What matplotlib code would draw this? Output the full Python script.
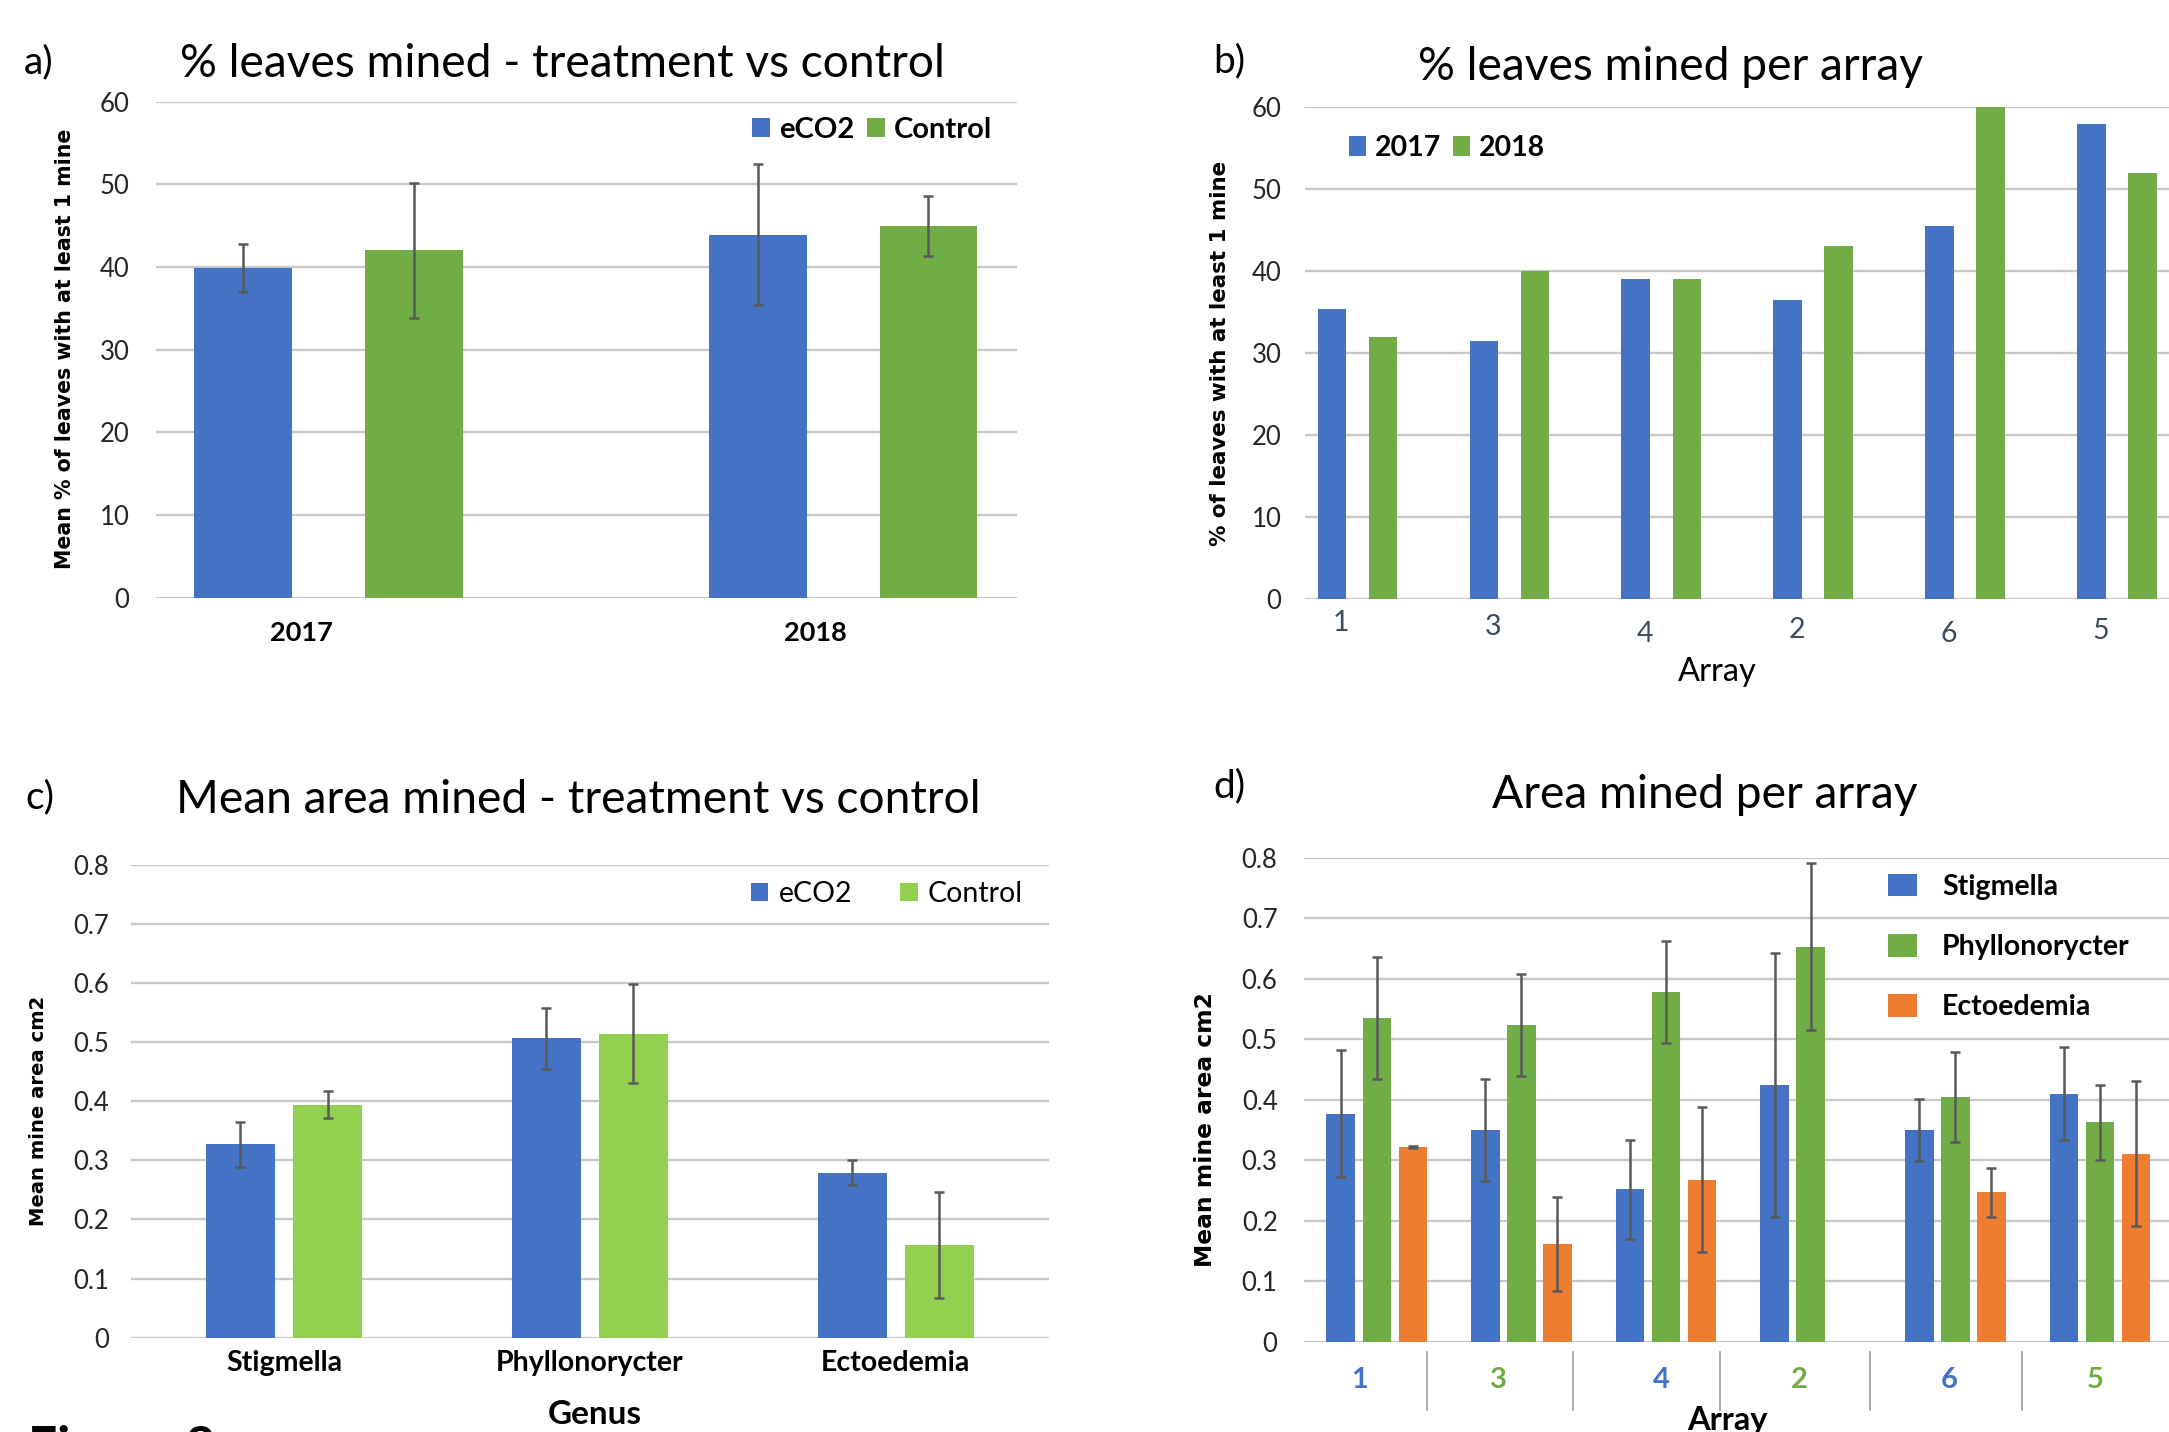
import numpy as np
import matplotlib
matplotlib.use("Agg")
import matplotlib.pyplot as plt
from matplotlib.ticker import FuncFormatter
import matplotlib.transforms as mtransforms

plt.rcParams['font.family'] = ['Lato', 'DejaVu Sans']

# ---- data ----
years = ['2017', '2018']
a_eco2 = [39.9, 43.9]
a_eco2_err = [2.9, 8.55]
a_control = [42.0, 44.95]
a_control_err = [8.2, 3.65]

arrays = ['1', '3', '4', '2', '6', '5']
b_2017 = [35.4, 31.5, 39.0, 36.5, 45.5, 57.9]
b_2018 = [32.0, 40.0, 39.0, 43.0, 60.0, 52.0]

genera = ['Stigmella', 'Phyllonorycter', 'Ectoedemia']
c_eco2 = [0.327, 0.506, 0.279]
c_eco2_err = [0.038, 0.051, 0.021]
c_control = [0.394, 0.514, 0.157]
c_control_err = [0.023, 0.084, 0.090]

d_stig = [0.377, 0.350, 0.252, 0.424, 0.350, 0.410]
d_stig_err = [0.105, 0.084, 0.082, 0.218, 0.051, 0.077]
d_phyl = [0.535, 0.523, 0.578, 0.653, 0.405, 0.363]
d_phyl_err = [0.101, 0.084, 0.085, 0.138, 0.074, 0.062]
d_ecto = [0.322, 0.162, 0.268, np.nan, 0.247, 0.311]
d_ecto_err = [0.001, 0.078, 0.120, np.nan, 0.040, 0.120]

# ---- style ----
BLUE = '#4472C4'
GREEN = '#70AD47'
LGREEN = '#92D050'
ORANGE = '#ED7D31'
GRID = '#C9C9C9'
ERR = '#595959'
TITLE = 33.2
PANEL = 28

W, H = 2169, 1432
fig = plt.figure(figsize=(W / 100, H / 100), dpi=100)


def box(l, t, r, b):
    return [l / W, 1 - b / H, (r - l) / W, (b - t) / H]


def ftext(x, y, s, **kw):
    fig.text(x / W, 1 - y / H, s, **kw)


def style(ax, ymax, step, ypad):
    ax.set_ylim(0, ymax)
    ax.set_yticks(np.arange(0, ymax + step / 2, step))
    ax.yaxis.set_major_formatter(FuncFormatter(lambda v, p: f"{v:g}"))
    ax.grid(axis='y', color=GRID, linewidth=1.7)
    ax.set_axisbelow(True)
    for s in ax.spines.values():
        s.set_visible(False)
    ax.tick_params(axis='y', length=0, pad=ypad, labelsize=18.5, labelcolor='#262626')
    ax.tick_params(axis='x', length=0)


def errs(ax, x, y, e):
    ax.errorbar(x, y, yerr=e, fmt='none', ecolor=ERR, elinewidth=1.8,
                capsize=3.8, capthick=1.8, zorder=3)


def legend(ax, handles, anchor, loc='center', **kw):
    ax.legend(handles=handles, frameon=False, borderpad=0, borderaxespad=0,
              loc=loc, bbox_to_anchor=(anchor[0] / W, 1 - anchor[1] / H),
              bbox_transform=fig.transFigure, **kw)


# ---- a) ----
ax = fig.add_axes(box(156, 101.5, 1017, 597.6))
x = np.arange(len(years))
h1 = ax.bar(x - 0.166, a_eco2, 0.19, color=BLUE, label='eCO2')
h2 = ax.bar(x + 0.166, a_control, 0.19, color=GREEN, label='Control')
errs(ax, x - 0.166, a_eco2, a_eco2_err)
errs(ax, x + 0.166, a_control, a_control_err)
style(ax, 60, 10, 19)
ax.set_xlim(-0.335, 1.338)
ax.set_xticks(x - 0.053)
ax.set_xticklabels(years, fontsize=19.5, fontweight='bold')
ax.tick_params(axis='x', pad=17)
legend(ax, [h1, h2], (872, 130), ncol=2,
       prop={'weight': 'bold', 'size': 21}, handlelength=0.62,
       handleheight=0.62, handletextpad=0.3, columnspacing=0.45)
ftext(24, 62, 'a)', fontsize=PANEL, va='center')
ftext(180, 77, '% leaves mined - treatment vs control', fontsize=TITLE, va='baseline')
ftext(65, 349, 'Mean % of leaves with at least 1 mine', fontsize=14.8, fontweight='bold',
      rotation=90, ha='center', va='center', family='DejaVu Sans')

# ---- b) ----
ax = fig.add_axes(box(1305, 107, 2169, 599))
x = np.arange(len(arrays))
h1 = ax.bar(x - 0.168, b_2017, 0.188, color=BLUE, label='2017')
h2 = ax.bar(x + 0.168, b_2018, 0.188, color=GREEN, label='2018')
style(ax, 60, 10, 17)
ax.set_xlim(-0.345, 5.342)
ax.set_xticks(x - 0.11)
ax.set_xticklabels(arrays, fontsize=20.5, color='#3E4C60')
ax.tick_params(axis='x', pad=8)
b_label_drop = [0, 4, 11, 7, 11, 8]
for lab, dy in zip(ax.get_xticklabels(), b_label_drop):
    lab.set_transform(lab.get_transform() +
                      mtransforms.ScaledTranslation(0, -dy / 100, fig.dpi_scale_trans))
legend(ax, [h1, h2], (1447, 148), ncol=2,
       prop={'weight': 'bold', 'size': 20.5}, handlelength=0.58,
       handleheight=0.65, handletextpad=0.3, columnspacing=0.45)
ftext(1229, 61, 'b)', fontsize=PANEL, va='center', ha='center')
ftext(1418, 80, '% leaves mined per array', fontsize=TITLE, va='baseline')
ftext(1717, 672, 'Array', fontsize=23.5, ha='center', va='center')
ftext(1220, 353, '% of leaves with at least 1 mine', fontsize=15.4, fontweight='bold',
      rotation=90, ha='center', va='center', family='DejaVu Sans')

# ---- c) ----
ax = fig.add_axes(box(131, 864.6, 1048.6, 1337.7))
x = np.arange(len(genera))
h1 = ax.bar(x - 0.1425, c_eco2, 0.226, color=BLUE, label='eCO2')
h2 = ax.bar(x + 0.1425, c_control, 0.226, color=LGREEN, label='Control')
errs(ax, x - 0.1425, c_eco2, c_eco2_err)
errs(ax, x + 0.1425, c_control, c_control_err)
style(ax, 0.8, 0.1, 16)
ax.set_xlim(-0.5, 2.5)
ax.set_xticks(x)
ax.set_xticklabels(genera, fontsize=20.5, fontweight='bold')
ax.tick_params(axis='x', pad=9)
legend(ax, [h1, h2], (887, 894), ncol=2,
       prop={'size': 20.5}, handlelength=0.62,
       handleheight=0.62, handletextpad=0.35, columnspacing=1.7)
ftext(40, 797, 'c)', fontsize=PANEL, va='center', ha='center')
ftext(176, 813, 'Mean area mined - treatment vs control', fontsize=TITLE, va='baseline')
ftext(595, 1414, 'Genus', fontsize=24, fontweight='bold', ha='center', va='center')
ftext(39, 1111, 'Mean mine area cm2', fontsize=14.1, fontweight='bold',
      rotation=90, ha='center', va='center', family='DejaVu Sans')
ftext(28, 1424, 'Figure 2', fontsize=37, fontweight='bold', va='top')

# ---- d) ----
ax = fig.add_axes(box(1304, 857.6, 2169, 1342))
x = np.arange(len(arrays))
h1 = ax.bar(x - 0.249, d_stig, 0.197, color=BLUE, label='Stigmella')
h2 = ax.bar(x, d_phyl, 0.197, color=GREEN, label='Phyllonorycter')
h3 = ax.bar(x + 0.249, d_ecto, 0.197, color=ORANGE, label='Ectoedemia')
errs(ax, x - 0.249, d_stig, d_stig_err)
errs(ax, x, d_phyl, d_phyl_err)
errs(ax, x + 0.249, d_ecto, d_ecto_err)
style(ax, 0.8, 0.1, 19)
ax.set_xlim(-0.503, 5.477)
d_label_shift = [-0.118, -0.16, -0.03, -0.076, -0.04, -0.03]
ax.set_xticks(x + np.array(d_label_shift))
ax.set_xticklabels(arrays, fontsize=21, fontweight='bold')
for i, lab in enumerate(ax.get_xticklabels()):
    lab.set_color(BLUE if i % 2 == 0 else GREEN)
ax.tick_params(axis='x', pad=18)
d_sep = [0.35, 1.355, 2.37, 3.41, 4.46]
for s in d_sep:
    ax.plot([s, s], [-0.016, -0.112], color='#A6A6A6', linewidth=1.3,
            clip_on=False, transform=ax.transData)
legend(ax, [h1, h2, h3], (1888, 947), loc='center left',
       prop={'weight': 'bold', 'size': 20.5}, handlelength=1.02,
       handleheight=0.85, handletextpad=0.88, labelspacing=1.2)
ftext(1229, 786, 'd)', fontsize=PANEL, va='center', ha='center')
ftext(1492, 808, 'Area mined per array', fontsize=TITLE, va='baseline')
ftext(1727, 1406, 'Array', fontsize=23.5, fontweight='bold', ha='center', va='top')
ftext(1206, 1130, 'Mean mine area cm2', fontsize=16.8, fontweight='bold',
      rotation=90, ha='center', va='center', family='DejaVu Sans')

fig.savefig('out.png', dpi=100)
